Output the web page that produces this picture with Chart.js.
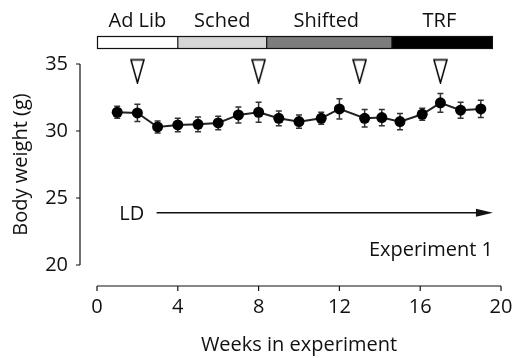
<!DOCTYPE html>
<html>
<head>
<meta charset="utf-8">
<script src="https://cdn.jsdelivr.net/npm/chart.js@4.4.0/dist/chart.umd.min.js"></script>
<style>
  html, body { margin: 0; padding: 0; background: #fff; }
  #wrap { width: 514px; height: 358px; }
</style>
</head>
<body>
<div id="wrap"><canvas id="weightChart" width="514" height="358"></canvas></div>
<script>
// Weekly body weight, mean and SEM
const weeks = [1, 2, 3, 4, 5, 6, 7, 8, 9, 10, 11.1, 12, 13.25, 14.1, 15, 16.1, 17, 18, 19];
const weightMean = [31.4, 31.35, 30.3, 30.45, 30.5, 30.6, 31.2, 31.4, 30.95, 30.7, 30.95, 31.65, 30.95, 31.0, 30.7, 31.25, 32.1, 31.55, 31.65];
const weightSem = [0.45, 0.65, 0.45, 0.5, 0.55, 0.5, 0.6, 0.75, 0.55, 0.5, 0.45, 0.75, 0.65, 0.6, 0.6, 0.45, 0.7, 0.6, 0.65];

// Sampling points (open triangles)
const sampleWeeks = [2, 8, 13, 17];
const sampleLevel = [34.45, 34.45, 34.45, 34.45];

// Feeding schedule phases
const phaseNames = ['Ad Lib', 'Sched', 'Shifted', 'TRF'];
const phaseBounds = [0, 4, 8.4, 14.6, 19.6];
const phaseColors = ['#ffffff', '#d6d6d6', '#7d7d7d', '#000000'];

// Light cycle arrow
const ldStart = 2.95;
const ldEnd = 19.6;
const ldLevel = 23.9;

const xTicks = [0, 4, 8, 12, 16, 20];
const yTicks = [20, 25, 30, 35];

const FONT = '"Open Sans", sans-serif';
const TEXT = '#111';

// narrow open triangle used as point style
function makeTriangle() {
  const c = document.createElement('canvas');
  c.width = 15;
  c.height = 26;
  const g = c.getContext('2d');
  g.strokeStyle = '#000';
  g.lineWidth = 1.5;
  g.beginPath();
  g.moveTo(1, 1.5);
  g.lineTo(14, 1.5);
  g.lineTo(7.5, 24.5);
  g.closePath();
  g.stroke();
  return c;
}

const overlay = {
  id: 'overlay',
  beforeDatasetsDraw(chart) {
    const { ctx, scales: { x, y } } = chart;
    // error bars
    ctx.save();
    ctx.strokeStyle = '#333';
    ctx.lineWidth = 1.5;
    weeks.forEach((w, i) => {
      const px = x.getPixelForValue(w);
      const top = y.getPixelForValue(weightMean[i] + weightSem[i]);
      const bot = y.getPixelForValue(weightMean[i] - weightSem[i]);
      ctx.beginPath();
      ctx.moveTo(px, top); ctx.lineTo(px, bot);
      ctx.moveTo(px - 3, top); ctx.lineTo(px + 3, top);
      ctx.moveTo(px - 3, bot); ctx.lineTo(px + 3, bot);
      ctx.stroke();
    });
    ctx.restore();
  },
  afterDraw(chart) {
    const { ctx, chartArea, scales: { x, y } } = chart;
    ctx.save();
    ctx.strokeStyle = TEXT;
    ctx.fillStyle = TEXT;
    ctx.lineWidth = 1.2;

    // detached y axis
    const ax = chartArea.left - 17;
    ctx.beginPath();
    ctx.moveTo(ax, y.getPixelForValue(yTicks[0]));
    ctx.lineTo(ax, y.getPixelForValue(yTicks[yTicks.length - 1]));
    y.ticks.forEach(t => {
      const py = y.getPixelForValue(t.value);
      ctx.moveTo(ax - 4, py); ctx.lineTo(ax, py);
    });
    ctx.stroke();

    // detached x axis
    const ay = chartArea.bottom + 21;
    ctx.beginPath();
    ctx.moveTo(x.getPixelForValue(xTicks[0]), ay);
    ctx.lineTo(x.getPixelForValue(xTicks[xTicks.length - 1]), ay);
    x.ticks.forEach(t => {
      const px = x.getPixelForValue(t.value);
      ctx.moveTo(px, ay); ctx.lineTo(px, ay + 5);
    });
    ctx.stroke();

    // phase bar
    const barTop = 36, barH = 13;
    ctx.font = '20px ' + FONT;
    ctx.textAlign = 'center';
    ctx.textBaseline = 'alphabetic';
    phaseNames.forEach((name, i) => {
      const x0 = x.getPixelForValue(phaseBounds[i]);
      const x1 = x.getPixelForValue(phaseBounds[i + 1]);
      ctx.fillStyle = phaseColors[i];
      ctx.fillRect(x0, barTop, x1 - x0, barH);
      ctx.fillStyle = TEXT;
      ctx.fillText(name, (x0 + x1) / 2 - (i > 1 ? 3 : 0), 27);
    });
    ctx.lineWidth = 1.2;
    ctx.strokeRect(x.getPixelForValue(phaseBounds[0]) + 0.5, barTop + 0.5,
      x.getPixelForValue(phaseBounds[4]) - x.getPixelForValue(phaseBounds[0]) - 1, barH - 1);
    ctx.beginPath();
    for (let i = 1; i < 4; i++) {
      const px = x.getPixelForValue(phaseBounds[i]);
      ctx.moveTo(px, barTop); ctx.lineTo(px, barTop + barH);
    }
    ctx.stroke();

    // LD arrow
    const ly = y.getPixelForValue(ldLevel);
    const lx0 = x.getPixelForValue(ldStart);
    const lx1 = x.getPixelForValue(ldEnd);
    ctx.lineWidth = 1.3;
    ctx.beginPath();
    ctx.moveTo(lx0, ly); ctx.lineTo(lx1 - 12, ly);
    ctx.stroke();
    ctx.beginPath();
    ctx.moveTo(lx1, ly);
    ctx.lineTo(lx1 - 17, ly - 4);
    ctx.lineTo(lx1 - 17, ly + 4);
    ctx.closePath();
    ctx.fill();

    ctx.textAlign = 'left';
    ctx.fillText('LD', x.getPixelForValue(1.1), ly + 7);
    ctx.textAlign = 'right';
    ctx.fillText('Experiment 1', lx1, ly + 43);
    ctx.restore();
  }
};

new Chart(document.getElementById('weightChart'), {
  type: 'line',
  data: {
    datasets: [
      {
        data: weeks.map((w, i) => ({ x: w, y: weightMean[i] })),
        borderColor: '#222',
        borderWidth: 2,
        pointRadius: 5.5,
        pointBackgroundColor: '#000',
        pointBorderWidth: 0,
        tension: 0
      },
      {
        data: sampleWeeks.map((w, i) => ({ x: w, y: sampleLevel[i] })),
        showLine: false,
        pointStyle: makeTriangle(),
        clip: false
      }
    ]
  },
  options: {
    responsive: false,
    animation: false,
    events: [],
    layout: { padding: { top: 64, right: 13, left: 0, bottom: 0 } },
    plugins: { legend: { display: false }, tooltip: { enabled: false } },
    scales: {
      x: {
        type: 'linear',
        min: 0,
        max: 20,
        afterFit: s => { s.height = 93; s.paddingLeft = 0; s.paddingRight = 0; },
        afterBuildTicks: s => { s.ticks = xTicks.map(v => ({ value: v })); },
        grid: { display: false, drawTicks: false },
        border: { display: false },
        ticks: { color: TEXT, padding: 30, font: { family: FONT, size: 20 } },
        title: {
          display: true,
          text: 'Weeks in experiment',
          color: TEXT,
          font: { family: FONT, size: 20 },
          padding: { top: 0, bottom: 1 }
        }
      },
      y: {
        min: 20,
        max: 35,
        afterFit: s => { s.width = 97; s.paddingTop = 0; s.paddingBottom = 0; },
        afterBuildTicks: s => { s.ticks = yTicks.map(v => ({ value: v })); },
        grid: { display: false, drawTicks: false },
        border: { display: false },
        ticks: { color: TEXT, padding: 29, font: { family: FONT, size: 20 } },
        title: {
          display: true,
          text: 'Body weight (g)',
          color: TEXT,
          font: { family: FONT, size: 20 },
          padding: { top: 9, bottom: 0 }
        }
      }
    }
  },
  plugins: [overlay]
});
</script>
</body>
</html>
